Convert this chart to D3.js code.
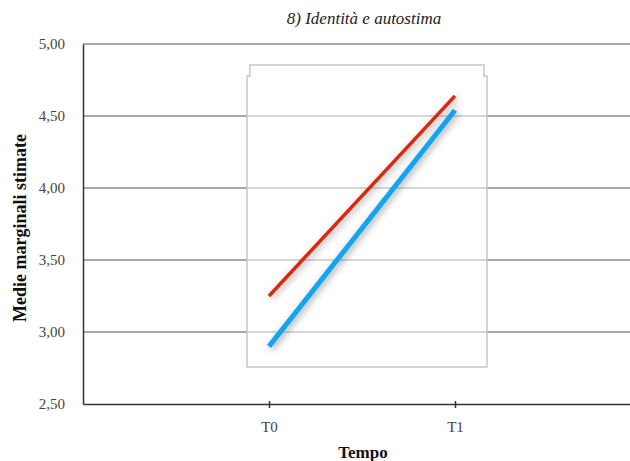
<!DOCTYPE html>
<html>
<head>
<meta charset="utf-8">
<script src="https://cdn.jsdelivr.net/npm/d3@7"></script>
<style>
  body { margin: 0; background: #fff; }
  svg text { font-family: 'Liberation Serif', 'DejaVu Serif', serif; }
</style>
</head>
<body>
<svg id="chart" width="630" height="461"></svg>
<script>
// --- Data ---------------------------------------
const times = ["T0", "T1"];
const redValues = [3.25, 4.64];
const blueValues = [2.90, 4.54];
const yTicks = [2.5, 3.0, 3.5, 4.0, 4.5, 5.0];

const serif = "'Liberation Serif', 'DejaVu Serif', serif";
const margin = {top: 44, left: 83, bottom: 57};
const width = 630, height = 461;

const svg = d3.select("#chart");

const y = d3.scaleLinear()
  .domain([2.5, 5])
  .range([height - margin.bottom, margin.top]);

// T0 and T1 sit in slots 1 and 2 of an axis running past the right edge
const x = d3.scaleLinear()
  .domain([0, 3])
  .range([margin.left, 641]);

const fmt = d => d3.format(".2f")(d).replace(".", ",");

// Gridlines
svg.append("g")
  .selectAll("line")
  .data(yTicks.filter(d => d > 2.5))
  .enter()
  .append("line")
  .attr("x1", margin.left).attr("x2", width)
  .attr("y1", d => y(d)).attr("y2", d => y(d))
  .attr("stroke", "#a6a6a6")
  .attr("stroke-width", 2);

// Semi-transparent panel with notched top corners
const bx0 = 247, bx1 = 487, by0 = 65, by1 = 367, notch = 3, step = 11;
const panel = d3.path();
panel.moveTo(bx0 + notch, by0);
panel.lineTo(bx1 - notch, by0);
panel.lineTo(bx1 - notch, by0 + step);
panel.lineTo(bx1, by0 + step);
panel.lineTo(bx1, by1);
panel.lineTo(bx0, by1);
panel.lineTo(bx0, by0 + step);
panel.lineTo(bx0 + notch, by0 + step);
panel.closePath();
svg.append("path")
  .attr("d", panel.toString())
  .attr("fill", "rgba(255,255,255,0.55)")
  .attr("stroke", "#c8c8c8")
  .attr("stroke-width", 1.5);

// Soft shadow under the lines
const f = svg.append("defs").append("filter").attr("id", "shadow")
  .attr("x", "-20%").attr("y", "-20%").attr("width", "140%").attr("height", "140%");
f.append("feDropShadow")
  .attr("dx", 2).attr("dy", 2).attr("stdDeviation", 3.5)
  .attr("flood-color", "#000").attr("flood-opacity", 0.35);

const line = d3.line()
  .x((d, i) => x(i + 1))
  .y(d => y(d));

svg.append("path")
  .datum(blueValues)
  .attr("d", line)
  .attr("fill", "none")
  .attr("stroke", "#12a4f2")
  .attr("stroke-width", 5)
  .attr("filter", "url(#shadow)");

svg.append("path")
  .datum(redValues)
  .attr("d", line)
  .attr("fill", "none")
  .attr("stroke", "#dc270e")
  .attr("stroke-width", 3.5)
  .attr("filter", "url(#shadow)");

// Y axis
const yAxis = svg.append("g")
  .attr("transform", "translate(" + margin.left + ",0)")
  .call(d3.axisLeft(y).tickValues(yTicks).tickFormat(fmt).tickSize(0).tickPadding(18));
yAxis.select(".domain").attr("stroke", "#333").attr("stroke-width", 1.5);
yAxis.selectAll("text")
  .style("font-size", "15px")
  .style("font-family", serif)
  .attr("fill", "#444");

// X axis
const xAxis = svg.append("g")
  .attr("transform", "translate(0," + y(2.5) + ")")
  .call(d3.axisBottom(x).tickValues([1, 2]).tickFormat(d => times[d - 1])
    .tickSizeInner(4).tickSizeOuter(0).tickPadding(13));
xAxis.select(".domain").attr("stroke", "#333").attr("stroke-width", 1.5);
xAxis.selectAll(".tick line")
  .attr("stroke", "#333").attr("stroke-width", 1.5)
  .attr("y1", -3).attr("y2", 4);
xAxis.selectAll("text")
  .style("font-size", "15px")
  .style("font-family", serif)
  .attr("fill", "#444");

// Titles
svg.append("text")
  .attr("x", 364).attr("y", 24)
  .attr("text-anchor", "middle")
  .style("font-family", serif)
  .style("font-style", "italic")
  .style("font-size", "17px")
  .attr("fill", "#222")
  .text("8) Identità e autostima");

svg.append("text")
  .attr("transform", "translate(26,228) rotate(-90)")
  .attr("text-anchor", "middle")
  .style("font-family", serif)
  .style("font-weight", "bold")
  .style("font-size", "18px")
  .attr("fill", "#111")
  .text("Medie marginali stimate");

svg.append("text")
  .attr("x", 363).attr("y", 458)
  .attr("text-anchor", "middle")
  .style("font-family", serif)
  .style("font-weight", "bold")
  .style("font-size", "17px")
  .attr("fill", "#111")
  .text("Tempo");
</script>
</body>
</html>
